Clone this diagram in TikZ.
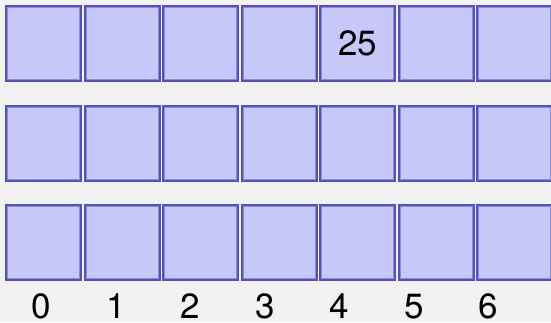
\documentclass[tikz,border=0pt]{standalone}
\usepackage{fontspec}
\setmainfont{TeX Gyre Heros}
\definecolor{bgc}{HTML}{F2F2F2}
\definecolor{cellfill}{HTML}{C8C8F8}
\definecolor{celldraw}{HTML}{5252B8}
\definecolor{cellinner}{HTML}{8C8CDC}
\begin{document}
\begin{tikzpicture}[x=1pt,y=1pt,
  cell/.style={draw=celldraw, fill=cellfill, line width=2pt, minimum size=75pt, inner sep=0pt,
    path picture={\draw[cellinner, line width=1pt]
      ([shift={(1.5pt,1.5pt)}]path picture bounding box.south west) rectangle
      ([shift={(-1.5pt,-1.5pt)}]path picture bounding box.north east);}},
  lbl/.style={font=\fontsize{35}{40}\selectfont, inner sep=0pt, text=black}]
\fill[bgc] (0,0) rectangle (551,322);
\useasboundingbox (0,0) rectangle (551,322);
\clip (0,0) rectangle (551,322);
\foreach \r/\y in {0/278.5, 1/179, 2/79.5}{
  \foreach \c in {0,...,6}{
    \node[cell] (b-\r-\c) at ({43.5+78.5*\c}, \y) {};
  }
}
\node[lbl] (v25) at (b-0-4.center) {25};
\foreach \c in {0,...,6}{
  \node[lbl, anchor=base] (l\c) at ({41.5+74.5*\c}, 3.5) {\c};
}
\end{tikzpicture}
\end{document}
